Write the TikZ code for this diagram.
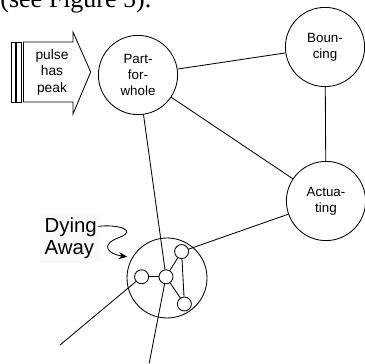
\documentclass[tikz,border=0pt]{standalone}
\usepackage{fontspec}
\setmainfont{Liberation Serif}
\setsansfont{Liberation Sans}
\usetikzlibrary{positioning,arrows.meta}

\tikzset{
  bigcirc/.style={draw, circle, minimum size=1.98cm, inner sep=0pt, align=center,
    font=\sffamily\fontsize{9.5}{11.5}\selectfont},
  dot/.style={draw, circle, minimum size=0.35cm, inner sep=0pt},
  link/.style={line width=0.6pt}
}

\begin{document}
\begin{tikzpicture}[line width=0.6pt]
	\useasboundingbox (0,0) rectangle (9.125,9.1);
	
	\node[anchor=base west, inner sep=0pt, font=\fontsize{18.5}{20}\selectfont] (cap) at (0,8.9) {(see Figure 5).};
	
	% the pulse
	\draw (0.2925,6.55) rectangle (0.3925,8.05);
	\draw (0.4175,6.55) rectangle (0.5425,8.05);
	\draw (0.5875,6.55) -- (1.825,6.55) -- (1.825,6.25) -- (2.2675,7.3)
	   -- (1.825,8.3) -- (1.825,8.05) -- (0.5875,8.05) -- cycle;
	\node[align=center, font=\sffamily\fontsize{9.8}{11.7}\selectfont] (pulse) at (1.3,7.3) {pulse\\has\\peak};
	
	\node[bigcirc] (part) at (3.45,7.225) {Part-\\for-\\whole};
	\node[bigcirc] (bounce) at (8.125,7.925) {Boun-\\cing};
	\node[bigcirc] (actua) at (8.15,4.075) {Actua-\\ting};
	
	% dying away
	\node[draw, circle, minimum size=2.0cm, inner sep=0pt] (dying) at (4.175,2.15) {};
	\node[dot] (d1) at (3.54,2.18) {};
	\node[dot] (d2) at (4.15,2.18) {};
	\node[dot] (d3) at (4.54,2.81) {};
	\node[dot] (d4) at (4.61,1.5) {};
	
	\coordinate (endA) at (1.5,0.475);
	\coordinate (endB) at (3.73,0.02);
	
	\draw[link] (part) -- (bounce);
	\draw[link] (part) -- (actua);
	\draw[link] (bounce) -- (actua);
	\draw[link] (actua) -- (d3);
	\draw[link] (part) -- (d2);
	\draw[link] (d2) -- (endB);
	\draw[link] (d1) -- (endA);
	\draw[link] (d1) -- (d2);
	\draw[link] (d2) -- (d3);
	\draw[link] (d2) -- (d4);
	\draw[link] (d3) -- (d4);
	
	\node[align=left, anchor=west, fill=black!2, inner sep=3pt,
	  font=\sffamily\fontsize{14.5}{16}\selectfont] (label) at (1.0,3.15) {Dying\\Away};
	\coordinate (sq) at (2.46,3.44);
	\draw[-{Stealth[length=6pt,width=5pt]}] (sq) .. controls (2.9,3.5) and (3.5,3.35) .. (2.95,3.15)
	   .. controls (2.5,2.98) and (2.7,2.75) .. (3.18,2.68);
	
\end{tikzpicture}
\end{document}
